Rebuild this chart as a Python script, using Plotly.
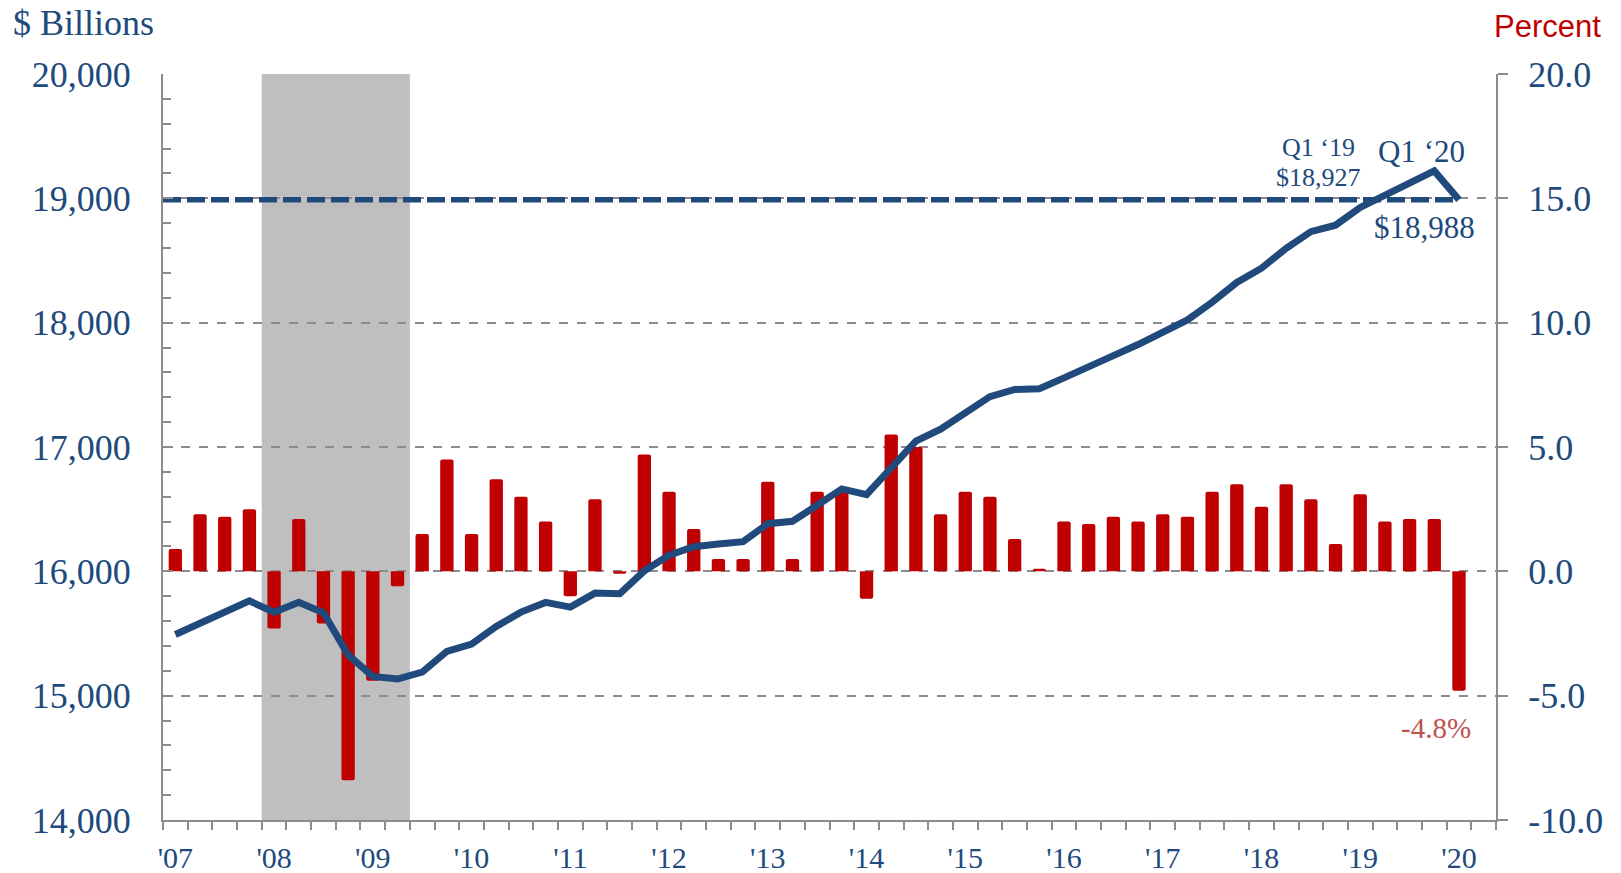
import plotly.graph_objects as go

# quarters Q1 2007 .. Q1 2020
quarters = [f"Q{q} {y}" for y in range(2007, 2020) for q in range(1, 5)] + ["Q1 2020"]

# real GDP growth, annualized percent change
gdp_growth = [
    0.9, 2.3, 2.2, 2.5,
    -2.3, 2.1, -2.1, -8.4,
    -4.4, -0.6, 1.5, 4.5,
    1.5, 3.7, 3.0, 2.0,
    -1.0, 2.9, -0.1, 4.7,
    3.2, 1.7, 0.5, 0.5,
    3.6, 0.5, 3.2, 3.2,
    -1.1, 5.5, 5.0, 2.3,
    3.2, 3.0, 1.3, 0.1,
    2.0, 1.9, 2.2, 2.0,
    2.3, 2.2, 3.2, 3.5,
    2.6, 3.5, 2.9, 1.1,
    3.1, 2.0, 2.1, 2.1,
    -4.8,
]

# real GDP level, $ billions
gdp_level = [
    15492, 15582, 15667, 15762,
    15671, 15752, 15667, 15328,
    15155, 15134, 15189, 15356,
    15415, 15557, 15672, 15750,
    15712, 15825, 15820, 16004,
    16129, 16198, 16220, 16239,
    16383, 16403, 16531, 16663,
    16616, 16841, 17048, 17143,
    17280, 17405, 17463, 17468,
    17556, 17639, 17735, 17824,
    17925, 18022, 18164, 18323,
    18438, 18598, 18732, 18784,
    18927, 19022, 19121, 19221,
    18988,
]

year_labels = ["'07", "'08", "'09", "'10", "'11", "'12", "'13",
               "'14", "'15", "'16", "'17", "'18", "'19", "'20"]
pct_ticks = [-10, -5, 0, 5, 10, 15, 20]
pct_text = ["-10.0", "-5.0", "0.0", "5.0", "10.0", "15.0", "20.0"]
bil_ticks = [14000, 15000, 16000, 17000, 18000, 19000, 20000]

NAVY = "#214A7C"
RED = "#C00000"
GREY = "#8C8C8C"
SERIF = "Liberation Serif, Times New Roman, serif"

idx = list(range(len(quarters)))
last = idx[-1]

fig = go.Figure()

fig.add_trace(go.Bar(
    x=idx, y=gdp_growth, width=0.54,
    marker=dict(color=RED, line_width=0, cornerradius=2),
    yaxis="y", name="Growth",
))

# reference level back from Q1 '20
fig.add_trace(go.Scatter(
    x=[-0.5, last], y=[gdp_level[-1], gdp_level[-1]],
    mode="lines", line=dict(color=NAVY, width=5.5, dash="18px,6px"),
    yaxis="y2", name="Q1 '20 level",
))

fig.add_trace(go.Scatter(
    x=idx, y=gdp_level, mode="lines",
    line=dict(color=NAVY, width=7),
    yaxis="y2", name="Real GDP",
))

# recession shading Q1 2008 - Q2 2009
fig.add_vrect(x0=3.5, x1=9.5, fillcolor="#BFBFBF", opacity=1, line_width=0, layer="below")

# page body adds ~8px offset, so margins are trimmed on left/top
fig.update_layout(
    width=1621, height=873,
    margin=dict(l=155, r=133, t=66, b=61),
    plot_bgcolor="white", paper_bgcolor="white",
    showlegend=False,
    font=dict(family=SERIF, color=NAVY),
    xaxis=dict(
        range=[-0.5, 53.5], automargin=False,
        tickmode="array", tickvals=idx[::4], ticktext=year_labels,
        ticks="", showgrid=False, zeroline=False,
        showline=True, linecolor=GREY, linewidth=2,
        tickfont=dict(size=30, color=NAVY, family=SERIF),
        ticklabelstandoff=10,
        minor=dict(tickmode="linear", tick0=-0.5, dtick=1, ticks="outside",
                   ticklen=8, tickcolor=GREY, tickwidth=1.5),
    ),
    yaxis=dict(
        side="right", range=[-10, 20], automargin=False,
        tickmode="array", tickvals=pct_ticks, ticktext=pct_text,
        ticks="outside", ticklen=10, tickcolor=GREY, tickwidth=1.5,
        showgrid=True, gridcolor=GREY, griddash="dash", gridwidth=1.5,
        zeroline=False, showline=True, linecolor=GREY, linewidth=2,
        tickfont=dict(size=36, color=NAVY, family=SERIF),
        ticklabelstandoff=13,
    ),
    yaxis2=dict(
        side="left", overlaying="y", range=[14000, 20000], automargin=False,
        tickmode="array", tickvals=bil_ticks, tickformat=",",
        ticks="inside", ticklen=10, tickcolor=GREY, tickwidth=1.5,
        showgrid=False, zeroline=False,
        showline=True, linecolor=GREY, linewidth=2,
        tickfont=dict(size=36, color=NAVY, family=SERIF),
        ticklabelstandoff=23,
        minor=dict(tickmode="linear", tick0=14000, dtick=200, ticks="inside",
                   ticklen=8, tickcolor=GREY, tickwidth=1.5),
    ),
)

annots = [
    dict(text="$ Billions", x=-0.1144, y=1.068, xref="paper", yref="paper",
         xanchor="left", yanchor="middle", font=dict(size=36, color=NAVY, family=SERIF)),
    dict(text="Percent", x=1.0803, y=1.064, xref="paper", yref="paper",
         xanchor="right", yanchor="middle",
         font=dict(size=31, color=RED, family="Liberation Sans, Arial, sans-serif")),
    dict(text="Q1 \u201819", x=46.3, y=19408, xref="x", yref="y2",
         font=dict(size=26, color=NAVY, family=SERIF)),
    dict(text="$18,927", x=46.3, y=19168, xref="x", yref="y2",
         font=dict(size=26, color=NAVY, family=SERIF)),
    dict(text="Q1 \u201820", x=50.5, y=19376, xref="x", yref="y2",
         font=dict(size=31, color=NAVY, family=SERIF)),
    dict(text="$18,988", x=50.6, y=18766, xref="x", yref="y2",
         font=dict(size=31, color=NAVY, family=SERIF)),
    dict(text="-4.8%", x=51.05, y=-6.3, xref="x", yref="y",
         font=dict(size=29, color="#C0504D", family=SERIF)),
]
for a in annots:
    fig.add_annotation(showarrow=False, **a)

fig.write_html("out.html")
